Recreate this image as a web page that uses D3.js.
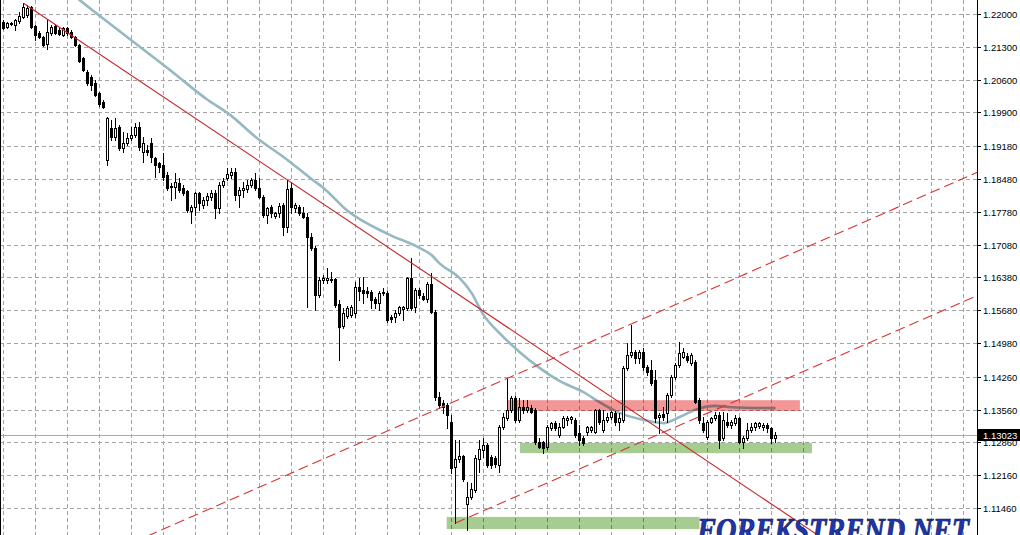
<!DOCTYPE html>
<html><head><meta charset="utf-8">
<script src="https://cdn.jsdelivr.net/npm/d3@7"></script>
<style>
html,body{margin:0;padding:0;background:#fff;overflow:hidden}
svg{display:block}
</style></head><body>
<svg id="c" width="1020" height="535"></svg>
<script>
// ---- candle data (EURUSD), index = bar number ----
const open = [
1.2183,1.2172,1.2181,1.2177,1.2185,1.2193,1.2198,1.2215,1.2174,1.2159,
1.2151,1.2136,1.2159,1.2174,1.2166,1.2155,1.2170,1.2162,1.2151,1.2134,
1.2106,1.2076,1.2065,1.2053,1.2031,1.2012,1.1888,1.1956,1.1937,1.1959,
1.1914,1.1925,1.1935,1.1942,1.1959,1.1905,1.1910,1.1925,1.1893,1.1882,
1.1878,1.1856,1.1833,1.1831,1.1839,1.1829,1.1822,1.1780,1.1788,1.1818,
1.1792,1.1803,1.1809,1.1818,1.1786,1.1835,1.1850,1.1856,1.1863,1.1814,
1.1824,1.1826,1.1835,1.1846,1.1829,1.1809,1.1771,1.1788,1.1769,1.1775,
1.1792,1.1745,1.1829,1.1786,1.1788,1.1775,1.1767,1.1724,1.1701,1.1600,
1.1632,1.1632,1.1634,1.1634,1.1581,1.1534,1.1556,1.1558,1.1562,1.1618,
1.1611,1.1609,1.1607,1.1592,1.1583,1.1605,1.1605,1.1553,1.1553,1.1562,
1.1571,1.1573,1.1636,1.1575,1.1611,1.1598,1.1592,1.1624,1.1564,1.1383,
1.1370,1.1366,1.1329,1.1233,1.1250,1.1257,1.1154,1.1169,1.1184,1.1250,
1.1270,1.1280,1.1255,1.1253,1.1238,1.1319,1.1338,1.1355,1.1381,1.1334,
1.1361,1.1355,1.1359,1.1355,1.1287,1.1287,1.1276,1.1317,1.1327,1.1302,
1.1319,1.1334,1.1336,1.1334,1.1306,1.1295,1.1308,1.1312,1.1308,1.1355,
1.1312,1.1334,1.1340,1.1349,1.1329,1.1334,1.1445,1.1472,1.1479,1.1466,
1.1479,1.1447,1.1440,1.1419,1.1340,1.1346,1.1349,1.1387,1.1425,1.1451,
1.1468,1.1470,1.1455,1.1457,1.1376,1.1327,1.1297,1.1329,1.1338,1.1344,
1.1295,1.1329,1.1323,1.1327,1.1338,1.1287,1.1295,1.1312,1.1319,1.1321,
1.1319,1.1323,1.1317,1.1295];
const high = [
1.2187,1.2183,1.2183,1.2189,1.2204,1.2223,1.2219,1.2217,1.2177,1.2164,
1.2153,1.2187,1.2177,1.2179,1.2170,1.2172,1.2172,1.2166,1.2153,1.2136,
1.2108,1.2081,1.2070,1.2059,1.2033,1.2017,1.1980,1.1974,1.1978,1.1963,
1.1948,1.1946,1.1959,1.1967,1.1969,1.1937,1.1920,1.1935,1.1895,1.1884,
1.1903,1.1863,1.1839,1.1861,1.1850,1.1835,1.1824,1.1792,1.1820,1.1820,
1.1809,1.1818,1.1824,1.1824,1.1841,1.1850,1.1871,1.1871,1.1871,1.1831,
1.1841,1.1846,1.1850,1.1861,1.1850,1.1814,1.1788,1.1792,1.1777,1.1797,
1.1797,1.1846,1.1841,1.1797,1.1792,1.1788,1.1775,1.1733,1.1705,1.1639,
1.1643,1.1658,1.1649,1.1636,1.1590,1.1573,1.1577,1.1579,1.1628,1.1636,
1.1639,1.1618,1.1611,1.1596,1.1609,1.1615,1.1609,1.1558,1.1568,1.1577,
1.1577,1.1639,1.1679,1.1615,1.1615,1.1605,1.1628,1.1647,1.1568,1.1393,
1.1376,1.1370,1.1344,1.1291,1.1291,1.1259,1.1202,1.1199,1.1259,1.1291,
1.1295,1.1285,1.1259,1.1257,1.1323,1.1349,1.1423,1.1385,1.1385,1.1381,
1.1376,1.1376,1.1366,1.1359,1.1295,1.1289,1.1323,1.1329,1.1331,1.1327,
1.1342,1.1342,1.1342,1.1338,1.1323,1.1300,1.1321,1.1321,1.1357,1.1357,
1.1355,1.1349,1.1353,1.1353,1.1349,1.1449,1.1498,1.1536,1.1483,1.1483,
1.1487,1.1451,1.1462,1.1440,1.1349,1.1361,1.1391,1.1430,1.1455,1.1500,
1.1487,1.1477,1.1477,1.1462,1.1381,1.1340,1.1334,1.1340,1.1351,1.1351,
1.1351,1.1349,1.1334,1.1344,1.1340,1.1300,1.1327,1.1327,1.1329,1.1329,
1.1327,1.1327,1.1319,1.1308];
const low = [
1.2168,1.2170,1.2177,1.2166,1.2181,1.2191,1.2193,1.2170,1.2145,1.2149,
1.2132,1.2125,1.2155,1.2157,1.2155,1.2153,1.2155,1.2149,1.2132,1.2097,
1.2078,1.2048,1.2038,1.2025,1.2004,1.1999,1.1878,1.1931,1.1931,1.1910,
1.1905,1.1920,1.1931,1.1937,1.1910,1.1884,1.1899,1.1884,1.1852,1.1863,
1.1846,1.1824,1.1803,1.1807,1.1820,1.1814,1.1777,1.1754,1.1771,1.1782,
1.1786,1.1792,1.1803,1.1765,1.1775,1.1831,1.1846,1.1850,1.1803,1.1788,
1.1809,1.1820,1.1831,1.1824,1.1807,1.1767,1.1754,1.1767,1.1765,1.1767,
1.1728,1.1735,1.1775,1.1777,1.1771,1.1765,1.1575,1.1696,1.1568,1.1596,
1.1626,1.1626,1.1628,1.1575,1.1462,1.1530,1.1551,1.1553,1.1553,1.1590,
1.1583,1.1596,1.1573,1.1573,1.1568,1.1600,1.1543,1.1543,1.1543,1.1558,
1.1547,1.1568,1.1568,1.1564,1.1594,1.1590,1.1586,1.1562,1.1376,1.1359,
1.1349,1.1317,1.1221,1.1114,1.1244,1.1204,1.1099,1.1165,1.1180,1.1223,
1.1255,1.1233,1.1231,1.1233,1.1223,1.1314,1.1334,1.1351,1.1329,1.1329,
1.1349,1.1351,1.1349,1.1283,1.1274,1.1263,1.1272,1.1312,1.1312,1.1297,
1.1317,1.1323,1.1327,1.1297,1.1280,1.1280,1.1302,1.1308,1.1306,1.1325,
1.1308,1.1329,1.1336,1.1323,1.1312,1.1329,1.1440,1.1468,1.1455,1.1455,
1.1440,1.1430,1.1408,1.1329,1.1306,1.1334,1.1329,1.1383,1.1421,1.1447,
1.1466,1.1457,1.1451,1.1370,1.1327,1.1308,1.1293,1.1327,1.1334,1.1274,
1.1291,1.1319,1.1317,1.1323,1.1285,1.1274,1.1291,1.1308,1.1312,1.1317,
1.1312,1.1308,1.1285,1.1287];
const close = [
1.2170,1.2181,1.2179,1.2187,1.2196,1.2215,1.2213,1.2172,1.2155,1.2151,
1.2134,1.2162,1.2172,1.2159,1.2157,1.2170,1.2159,1.2151,1.2134,1.2100,
1.2081,1.2053,1.2048,1.2027,1.2008,1.2002,1.1978,1.1937,1.1956,1.1914,
1.1925,1.1935,1.1942,1.1959,1.1916,1.1925,1.1905,1.1895,1.1878,1.1873,
1.1852,1.1829,1.1831,1.1841,1.1824,1.1818,1.1782,1.1788,1.1818,1.1797,
1.1803,1.1812,1.1818,1.1786,1.1835,1.1844,1.1859,1.1863,1.1814,1.1824,
1.1829,1.1835,1.1846,1.1829,1.1809,1.1771,1.1786,1.1775,1.1775,1.1790,
1.1745,1.1826,1.1788,1.1792,1.1775,1.1767,1.1724,1.1701,1.1600,1.1632,
1.1636,1.1636,1.1632,1.1579,1.1532,1.1562,1.1573,1.1575,1.1618,1.1609,
1.1605,1.1605,1.1590,1.1583,1.1605,1.1607,1.1547,1.1549,1.1562,1.1575,
1.1575,1.1636,1.1573,1.1611,1.1600,1.1592,1.1624,1.1564,1.1383,1.1366,
1.1361,1.1344,1.1231,1.1250,1.1257,1.1208,1.1169,1.1187,1.1253,1.1272,
1.1280,1.1238,1.1238,1.1240,1.1319,1.1340,1.1355,1.1381,1.1334,1.1361,
1.1355,1.1361,1.1351,1.1287,1.1276,1.1274,1.1319,1.1327,1.1317,1.1319,
1.1338,1.1338,1.1340,1.1302,1.1291,1.1285,1.1319,1.1319,1.1355,1.1329,
1.1334,1.1340,1.1351,1.1329,1.1338,1.1445,1.1472,1.1479,1.1466,1.1479,
1.1447,1.1436,1.1413,1.1338,1.1344,1.1340,1.1387,1.1425,1.1451,1.1477,
1.1479,1.1462,1.1472,1.1372,1.1334,1.1312,1.1329,1.1338,1.1344,1.1291,
1.1334,1.1323,1.1329,1.1338,1.1287,1.1295,1.1312,1.1319,1.1327,1.1327,
1.1323,1.1317,1.1295,1.13023];

// moving average, read at bar indices
const maIndex = [16,19,30,42,51,56,64,70,77,80,86,96,104,107,109,114,117,120,124,129,134,139,145,149,154,159,165,169,174,178,182,193];
const maValue = [1.2251,1.2230,1.2157,1.2078,1.2017,1.1989,1.1931,1.1895,1.1848,1.1829,1.1780,1.1731,1.1701,1.1686,1.1668,1.1637,1.1605,1.1558,1.1519,1.1479,1.1445,1.1417,1.1393,1.1372,1.1349,1.1336,1.1327,1.1340,1.1359,1.1364,1.1361,1.1359];

// price axis
const tickLabels = ["1.22000","1.21300","1.20600","1.19900","1.19180","1.18480","1.17780","1.17080","1.16380","1.15680","1.14980","1.14260","1.13560","1.12860","1.12160","1.11460"];
const lastPrice = 1.13023;
const lastPriceLabel = "1.13023";

// trend lines: [index, price] anchor pairs
const downTrendIdx = [5, 203.6];
const downTrendPrice = [1.2223, 1.1088];
const upperChannelIdx = [36, 245];
const upperChannelPrice = [1.1086, 1.1868];
const lowerChannelIdx = [113, 245];
const lowerChannelPrice = [1.1114, 1.1605];

// zones: [startIdx, endIdx, topPrice, bottomPrice]
const resistanceZone = [126.1, 199.1, 1.1376, 1.1353];
const supportZone = [129.1, 202.1, 1.1285, 1.1263];
const lowZone = [110.8, 174, 1.1127, 1.1101];

const watermark = "FOREKSTREND.NET";

// ---- drawing ----
const W = 1020, H = 535, axisX = 977;
const svg = d3.select("#c");
const x = d3.scaleLinear().domain([0, 243]).range([3.5, 975.5]);
const y = d3.scaleLinear().domain([1.1146, 1.2200]).range([508, 14]);
const tickVals = tickLabels.map(Number);
const px = v => Math.round(v) + 0.5;

svg.append("rect").attr("width", W).attr("height", H).attr("fill", "#fff");
svg.append("defs").append("clipPath").attr("id", "plot")
  .append("rect").attr("x", 0).attr("y", 0).attr("width", axisX).attr("height", H);

const g = svg.append("g").attr("clip-path", "url(#plot)");

// grid
const gridColor = "#a4a4a4";
g.selectAll("line.hg").data(tickVals).join("line")
  .attr("x1", 0).attr("x2", axisX)
  .attr("y1", d => px(y(d))).attr("y2", d => px(y(d)))
  .attr("stroke", gridColor).attr("stroke-dasharray", "4,3").attr("shape-rendering", "crispEdges");
g.selectAll("line.vg").data(d3.range(0, 244, 8)).join("line")
  .attr("x1", d => Math.floor(x(d)) + 0.5).attr("x2", d => Math.floor(x(d)) + 0.5)
  .attr("y1", 0).attr("y2", H)
  .attr("stroke", gridColor).attr("stroke-dasharray", "4,3").attr("shape-rendering", "crispEdges");

// current price line
g.append("line").attr("x1", 0).attr("x2", axisX)
  .attr("y1", px(y(lastPrice))).attr("y2", px(y(lastPrice)))
  .attr("stroke", "#a8a8a8").attr("shape-rendering", "crispEdges");

// moving average
const maPts = maIndex.map((d, i) => [d, maValue[i]]);
g.append("path").datum(maPts)
  .attr("d", d3.line().x(d => x(d[0])).y(d => y(d[1])).curve(d3.curveMonotoneX))
  .attr("fill", "none").attr("stroke", "#95b8c2").attr("stroke-width", 2.6);

// candles
const idx = d3.range(open.length);
const cg = g.append("g").attr("shape-rendering", "crispEdges");
cg.selectAll("line.w").data(idx).join("line")
  .attr("x1", i => Math.floor(x(i)) + 0.5).attr("x2", i => Math.floor(x(i)) + 0.5)
  .attr("y1", i => Math.round(y(high[i]))).attr("y2", i => Math.round(y(low[i])) + 1)
  .attr("stroke", "#000");
cg.selectAll("rect.b").data(idx).join("rect")
  .attr("x", i => close[i] >= open[i] ? Math.floor(x(i)) - 0.5 : Math.floor(x(i)) - 1)
  .attr("width", i => close[i] >= open[i] ? 2 : 3)
  .attr("y", i => {
    const t = Math.round(y(Math.max(open[i], close[i])));
    return close[i] >= open[i] ? t + 0.5 : t;
  })
  .attr("height", i => {
    const t = Math.round(y(Math.max(open[i], close[i])));
    const b = Math.round(y(Math.min(open[i], close[i])));
    return close[i] >= open[i] ? Math.max(b - t, 1) : Math.max(b - t + 1, 1);
  })
  .attr("fill", i => close[i] >= open[i] ? "#fff" : "#000")
  .attr("stroke", i => close[i] >= open[i] ? "#000" : "none")
  .attr("stroke-width", 1);

// zones
const zones = [
  {z: resistanceZone, c: "rgb(242,150,150)"},
  {z: supportZone, c: "rgb(166,204,146)"},
  {z: lowZone, c: "rgb(166,204,146)"}
];
g.selectAll("rect.zone").data(zones).join("rect")
  .attr("x", d => x(d.z[0])).attr("width", d => x(d.z[1]) - x(d.z[0]))
  .attr("y", d => y(d.z[2])).attr("height", d => y(d.z[3]) - y(d.z[2]))
  .attr("fill", d => d.c).style("mix-blend-mode", "multiply");

// trend lines
const tl = d3.line().x(d => x(d[0])).y(d => y(d[1]));
g.append("path").datum(downTrendIdx.map((d, i) => [d, downTrendPrice[i]]))
  .attr("d", tl).attr("fill", "none").attr("stroke", "#c82424").attr("stroke-width", 1.1);
g.append("path").datum(upperChannelIdx.map((d, i) => [d, upperChannelPrice[i]]))
  .attr("d", tl).attr("fill", "none").attr("stroke", "#d83434").attr("stroke-width", 1.1)
  .attr("stroke-dasharray", "10,5");
g.append("path").datum(lowerChannelIdx.map((d, i) => [d, lowerChannelPrice[i]]))
  .attr("d", tl).attr("fill", "none").attr("stroke", "#d83434").attr("stroke-width", 1.1)
  .attr("stroke-dasharray", "10,5");

// left border
svg.append("line").attr("x1", 0.5).attr("x2", 0.5).attr("y1", 0).attr("y2", H)
  .attr("stroke", "#000");

// price axis
const ax = svg.append("g").attr("transform", `translate(${axisX},0)`)
  .call(d3.axisRight(y).tickValues(tickVals).tickFormat((d, i) => tickLabels[i])
        .tickSize(4).tickPadding(2).tickSizeOuter(0));
ax.select(".domain").remove();
ax.selectAll(".tick line").attr("stroke", "#000");
ax.selectAll(".tick text").attr("font-family", "Liberation Sans, Arial, sans-serif")
  .attr("font-size", "9.5px").attr("fill", "#000");
ax.selectAll(".tick").attr("transform", d => `translate(0,${px(y(d))})`);
svg.append("line").attr("x1", axisX + 0.5).attr("x2", axisX + 0.5).attr("y1", 0).attr("y2", H)
  .attr("stroke", "#000");

// last price label
const ly = px(y(lastPrice));
svg.append("rect").attr("x", axisX + 1).attr("y", ly - 6.5).attr("width", W - axisX - 1).attr("height", 12)
  .attr("fill", "#000");
svg.append("text").attr("x", axisX + 6).attr("y", ly).attr("dy", "0.33em")
  .attr("font-family", "Liberation Sans, Arial, sans-serif").attr("font-size", "9.5px")
  .attr("fill", "#fff").text(lastPriceLabel);

// watermark
svg.append("text").attr("x", 697).attr("y", 541)
  .attr("font-family", "Liberation Serif, DejaVu Serif, serif").attr("font-style", "italic")
  .attr("font-weight", "bold").attr("font-size", "33px")
  .attr("textLength", 272).attr("lengthAdjust", "spacingAndGlyphs")
  .attr("fill", "#2036a8").attr("stroke", "#0c1766").attr("stroke-width", 0.7)
  .text(watermark);
</script>
</body></html>
